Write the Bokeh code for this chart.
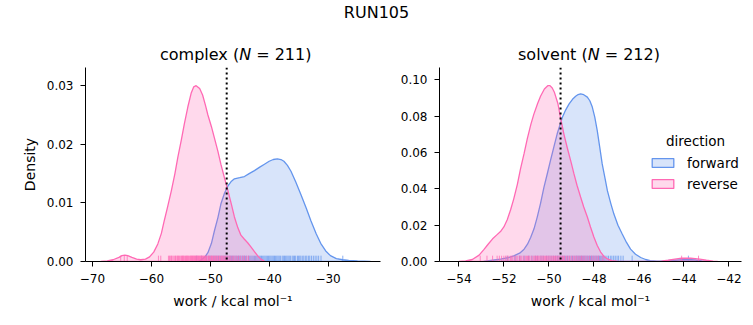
from bokeh.plotting import figure
from bokeh.models import Range1d, FixedTicker, Span, Label, Legend, LegendItem, Div
from bokeh.layouts import column, row
from bokeh.embed import file_html
from bokeh.resources import INLINE

# ---------------- data ----------------
suptitle = "RUN105"
panel_names = ["complex", "solvent"]
panel_n = [211, 212]
series = ["forward", "reverse"]
colors = ["#6495ED", "#FF69B4"]

complex_fwd_x = [-52.1, -51.5, -50.9, -50.4, -49.8, -49.3, -48.7, -48.2, -47.6, -47.0, -46.4, -45.9, -45.0,
                 -44.2, -43.4, -42.5, -41.6, -40.8, -40.0, -39.3, -38.6, -38.0, -37.5, -36.9, -36.3, -35.5,
                 -34.6, -33.7, -32.9, -32.0, -31.25, -30.4, -29.6, -28.6, -27.5, -26.5, -25.0, -22.8]
complex_fwd_y = [0.0, 0.0003, 0.0008, 0.0015, 0.0031, 0.0052, 0.0075, 0.0098, 0.0116, 0.0129, 0.0137, 0.0141,
                 0.0143, 0.0145, 0.0150, 0.0155, 0.0161, 0.0166, 0.0171, 0.0174, 0.0175, 0.0174, 0.0171, 0.0164,
                 0.0154, 0.0136, 0.0114, 0.0091, 0.0069, 0.0047, 0.0031, 0.0018, 0.0010, 0.0005, 0.0003, 0.0002,
                 0.0001, 0.0]
complex_rev_x = [-68.6, -67.5, -66.5, -65.5, -65.0, -64.5, -64.0, -63.3, -62.5, -61.8, -61.0, -60.3, -59.6,
                 -58.9, -58.3, -57.8, -57.2, -56.6, -56.0, -55.5, -54.9, -54.4, -53.8, -53.25, -52.8, -52.4,
                 -51.8, -51.3, -50.8, -50.4, -49.8, -49.3, -48.7, -48.2, -47.6, -47.0, -46.4, -45.9, -45.3,
                 -44.8, -44.2, -43.65, -43.1, -42.5, -41.9, -41.4, -40.7]
complex_rev_y = [0.0, 0.0001, 0.0003, 0.0007, 0.0010, 0.0011, 0.0010, 0.0007, 0.0004, 0.0003, 0.0004, 0.0008,
                 0.0016, 0.0030, 0.0048, 0.0070, 0.0095, 0.0121, 0.0150, 0.0178, 0.0208, 0.0235, 0.0264, 0.0287,
                 0.0298, 0.0300, 0.0295, 0.0284, 0.0266, 0.0250, 0.0230, 0.0211, 0.0188, 0.0166, 0.0143, 0.0121,
                 0.0097, 0.0076, 0.0057, 0.0045, 0.0038, 0.0032, 0.0025, 0.0017, 0.0009, 0.0004, 0.0]

solvent_fwd_x = [-52.9, -52.5, -52.15, -51.8, -51.56, -51.3, -51.1, -50.95, -50.81, -50.66, -50.52, -50.37,
                 -50.22, -50.07, -49.93, -49.78, -49.63, -49.5, -49.4, -49.25, -49.1, -48.95, -48.81, -48.7,
                 -48.59, -48.45, -48.29, -48.18, -48.07, -47.96, -47.85, -47.74, -47.63, -47.5, -47.4, -47.25,
                 -47.11, -46.93, -46.74, -46.55, -46.37, -46.15, -45.92, -45.7, -45.5, -45.2, -44.9, -44.6,
                 -44.2, -43.85, -43.5, -43.2, -42.9]
solvent_fwd_y = [0.0, 0.0007, 0.0013, 0.0021, 0.0031, 0.0046, 0.0068, 0.0095, 0.0132, 0.0180, 0.0243, 0.0320,
                 0.0408, 0.0483, 0.0555, 0.0630, 0.0703, 0.0755, 0.0794, 0.0835, 0.0868, 0.0893, 0.0910, 0.0919,
                 0.0923, 0.0918, 0.0905, 0.0885, 0.0850, 0.0795, 0.0721, 0.0630, 0.0537, 0.0455, 0.0390, 0.0320,
                 0.0261, 0.0200, 0.0151, 0.0105, 0.0068, 0.0040, 0.0022, 0.0011, 0.0005, 0.0002, 0.0003, 0.0006,
                 0.0009, 0.0011, 0.0009, 0.0004, 0.0]
solvent_rev_x = [-54.0, -53.7, -53.4, -53.1, -52.89, -52.7, -52.5, -52.3, -52.15, -52.0, -51.85, -51.7, -51.56,
                 -51.4, -51.26, -51.1, -50.96, -50.8, -50.67, -50.5, -50.37, -50.2, -50.05, -49.95, -49.85,
                 -49.75, -49.6, -49.48, -49.33, -49.18, -49.0, -48.89, -48.75, -48.59, -48.45, -48.29, -48.15,
                 -48.0, -47.85, -47.7, -47.55, -47.4, -47.2, -46.9, -46.4, -45.4, -45.0, -44.7, -44.4, -44.1,
                 -43.7, -43.3, -43.0, -42.7, -42.5]
solvent_rev_y = [0.0, 0.0003, 0.0011, 0.0035, 0.0065, 0.0095, 0.0125, 0.0148, 0.0165, 0.0190, 0.0230, 0.0285,
                 0.0345, 0.0425, 0.0510, 0.0595, 0.0675, 0.0755, 0.0810, 0.0870, 0.0910, 0.0950, 0.0968, 0.0968,
                 0.0955, 0.0930, 0.0870, 0.0790, 0.0700, 0.0625, 0.0540, 0.0485, 0.0420, 0.0355, 0.0300, 0.0245,
                 0.0190, 0.0135, 0.0088, 0.0052, 0.0028, 0.0014, 0.0005, 0.0001, 0.0, 0.0, 0.0002, 0.0007, 0.0013,
                 0.0018, 0.0019, 0.0013, 0.0007, 0.0002, 0.0]

complex_fwd_rug = [-52.3, -51.5, -50.6, -50.2, -49.9, -49.5, -49.2, -48.9, -48.6, -48.3, -48.0, -47.7, -47.5,
                   -47.3, -47.1, -46.8, -46.6, -46.4, -46.2, -46.0, -45.8, -45.6, -45.4, -45.2, -45.0, -44.8,
                   -44.6, -44.4, -44.2, -44.0, -43.8, -43.5, -43.3, -43.1, -42.9, -42.7, -42.5, -42.3, -42.1,
                   -41.9, -41.7, -41.5, -41.3, -41.1, -40.9, -40.7, -40.5, -40.3, -40.1, -39.9, -39.7, -39.5,
                   -39.3, -39.1, -38.9, -38.7, -38.5, -38.3, -38.1, -37.8, -37.6, -37.4, -37.2, -37.0, -36.8,
                   -36.6, -36.4, -36.1, -35.9, -35.7, -35.5, -35.2, -35.0, -34.8, -34.6, -34.3, -34.1, -33.8,
                   -33.6, -33.3, -33.1, -32.8, -32.5, -32.2, -31.9, -31.6, -31.2, -27.5]
complex_rev_rug = [-65.2, -64.6, -64.1, -58.8, -58.4, -57.1, -56.9, -56.8, -56.6, -56.5, -56.3, -56.1, -55.9,
                   -55.8, -55.6, -55.5, -55.4, -55.2, -55.1, -54.9, -54.8, -54.7, -54.6, -54.5, -54.4, -54.2,
                   -54.1, -54.0, -53.9, -53.8, -53.7, -53.5, -53.4, -53.3, -53.2, -53.1, -53.0, -52.9, -52.8,
                   -52.7, -52.6, -52.5, -52.4, -52.3, -52.2, -52.1, -52.0, -51.9, -51.8, -51.7, -51.6, -51.5,
                   -51.4, -51.3, -51.2, -51.1, -51.0, -50.9, -50.8, -50.7, -50.6, -50.4, -50.3, -50.2, -50.1,
                   -49.9, -49.8, -49.7, -49.6, -49.4, -49.3, -49.1, -49.0, -48.8, -48.7, -48.5, -48.4, -48.2,
                   -48.1, -47.9, -47.8, -47.6, -47.4, -47.2, -47.0, -46.8, -46.6, -46.3, -46.1, -45.8, -45.5,
                   -45.2, -44.9, -44.5, -44.2, -43.8, -43.5]
solvent_fwd_rug = [-51.85, -51.5, -51.3, -51.1, -50.9, -50.75, -50.6, -50.5, -50.35, -50.25, -50.1, -50.0,
                   -49.9, -49.8, -49.7, -49.62, -49.55, -49.47, -49.4, -49.32, -49.25, -49.17, -49.1, -49.02,
                   -48.95, -48.88, -48.8, -48.75, -48.7, -48.65, -48.6, -48.55, -48.5, -48.45, -48.4, -48.35,
                   -48.3, -48.25, -48.2, -48.15, -48.1, -48.05, -48.0, -47.95, -47.9, -47.85, -47.8, -47.75,
                   -47.7, -47.65, -47.6, -47.55, -47.5, -47.42, -47.35, -47.27, -47.2, -47.12, -47.05, -46.97,
                   -46.9, -46.8, -46.7, -46.3, -43.8]
solvent_rev_rug = [-53.05, -52.75, -52.5, -52.3, -52.2, -52.1, -52.0, -51.92, -51.85, -51.78, -51.7, -51.65,
                   -51.6, -51.52, -51.45, -51.38, -51.3, -51.25, -51.2, -51.12, -51.05, -51.0, -50.95, -50.9,
                   -50.85, -50.78, -50.7, -50.65, -50.6, -50.55, -50.5, -50.45, -50.4, -50.35, -50.3, -50.25,
                   -50.2, -50.15, -50.1, -50.05, -50.0, -49.95, -49.9, -49.85, -49.8, -49.75, -49.7, -49.65,
                   -49.6, -49.55, -49.5, -49.45, -49.4, -49.35, -49.3, -49.22, -49.15, -49.08, -49.0, -48.92,
                   -48.85, -48.78, -48.7, -48.62, -48.55, -48.48, -48.4, -48.3, -48.2, -48.1, -48.0, -47.9,
                   -47.8, -47.6, -44.1, -43.35]

free_energy = [-47.21, -49.48]

complex_xticks = [-70, -60, -50, -40, -30]
complex_yticks = [0.0, 0.01, 0.02, 0.03]
complex_ylabels = ["0.00", "0.01", "0.02", "0.03"]
solvent_xticks = [-54, -52, -50, -48, -46, -44, -42]
solvent_yticks = [0.0, 0.02, 0.04, 0.06, 0.08, 0.10]
solvent_ylabels = ["0.00", "0.02", "0.04", "0.06", "0.08", "0.10"]

x_label = "work / kcal mol\u207b\u00b9"
y_label = "Density"
legend_title = "direction"

FONT = "DejaVu Sans"


def style(p, xticks, yticks, ylabels, ylab):
    for ax in (p.xaxis[0], p.yaxis[0]):
        ax.axis_line_color = "black"
        ax.axis_line_width = 1
        ax.major_tick_line_color = "black"
        ax.major_tick_line_width = 1
        ax.major_tick_out = 5
        ax.major_tick_in = 0
        ax.minor_tick_line_color = None
        ax.major_label_text_font = FONT
        ax.major_label_text_font_size = "12px"
        ax.major_label_text_color = "black"
        ax.axis_label_text_font = FONT
        ax.axis_label_text_font_size = "14px"
        ax.axis_label_text_font_style = "normal"
        ax.axis_label_text_color = "black"
    p.xaxis.ticker = FixedTicker(ticks=xticks)
    p.xaxis.major_label_overrides = {t: str(t).replace("-", "\u2212") for t in xticks}
    p.yaxis.ticker = FixedTicker(ticks=yticks)
    p.yaxis.major_label_overrides = dict(zip(yticks, ylabels))
    p.xaxis.axis_label = x_label
    p.xaxis.major_label_standoff = 7
    p.xaxis.axis_label_standoff = 7
    p.yaxis.major_label_standoff = 7
    p.yaxis.axis_label_standoff = 6
    if ylab:
        p.yaxis.axis_label = ylab
    p.xgrid.visible = False
    p.ygrid.visible = False
    p.outline_line_color = None


def add_series(p, xs, ys, rug, color, ymax):
    r = p.patch(xs, ys, fill_color=color, fill_alpha=0.25, line_color=color, line_width=1.3)
    h = ymax * 0.03
    p.segment(x0=rug, x1=rug, y0=[0] * len(rug), y1=[h] * len(rug),
              line_color=color, line_alpha=0.75, line_width=1)
    return r


# ---------------- left panel ----------------
c_ymax = 0.0331
p1 = figure(width=395, height=262, output_backend="svg", toolbar_location=None, title=None,
            x_range=Range1d(-71.18, -21.1), y_range=Range1d(0, c_ymax),
            min_border_left=85, min_border_right=15, min_border_top=4, min_border_bottom=64,
            background_fill_color="white", border_fill_color="white", margin=(0, 0, 0, 0))
style(p1, complex_xticks, complex_yticks, complex_ylabels, y_label)
add_series(p1, complex_fwd_x, complex_fwd_y, complex_fwd_rug, colors[0], c_ymax)
add_series(p1, complex_rev_x, complex_rev_y, complex_rev_rug, colors[1], c_ymax)
p1.add_layout(Span(location=free_energy[0], dimension="height", line_color="black",
                   line_width=2, line_dash="2 3"))

# ---------------- right panel ----------------
s_ymax = 0.1068
p2 = figure(width=358, height=262, output_backend="svg", toolbar_location=None, title=None,
            x_range=Range1d(-54.86, -41.44), y_range=Range1d(0, s_ymax),
            min_border_left=44, min_border_right=12, min_border_top=4, min_border_bottom=64,
            background_fill_color="white", border_fill_color="white", margin=(0, 0, 0, 0))
style(p2, solvent_xticks, solvent_yticks, solvent_ylabels, None)
rf = add_series(p2, solvent_fwd_x, solvent_fwd_y, solvent_fwd_rug, colors[0], s_ymax)
rr = add_series(p2, solvent_rev_x, solvent_rev_y, solvent_rev_rug, colors[1], s_ymax)
p2.add_layout(Span(location=free_energy[1], dimension="height", line_color="black",
                   line_width=2, line_dash="2 3"))

legend = Legend(items=[LegendItem(label=series[0], renderers=[rf]),
                       LegendItem(label=series[1], renderers=[rr])],
                location=(210, 69), orientation="vertical",
                glyph_width=27, glyph_height=11, label_height=17, spacing=4,
                padding=0, margin=0, label_standoff=11,
                label_text_font=FONT, label_text_font_size="13.5px", label_text_color="black",
                border_line_color=None, background_fill_alpha=0)
p2.add_layout(legend)
p2.add_layout(Label(x=-43.48, y=0.0662, text=legend_title, text_font=FONT, text_font_size="13.5px",
                    text_align="center", text_baseline="middle", text_color="black"))

# ---------------- titles ----------------
head = Div(text=suptitle, width=753, height=30, margin=(0, 0, 0, 0),
           styles={"text-align": "center", "font-size": "16px", "line-height": "26px",
                   "font-family": FONT, "color": "black", "width": "753px"})


def title_div(name, n, width, pad):
    return Div(text=f"{name} (<i>N</i> = {n})", width=width, height=33, margin=(0, 0, 0, 0),
               styles={"font-size": "16px", "line-height": "20px", "padding-top": "15px",
                       "padding-left": f"{pad}px", "white-space": "nowrap",
                       "font-family": FONT, "color": "black", "box-sizing": "border-box"})


t1 = title_div(panel_names[0], panel_n[0], 395, 160)
t2 = title_div(panel_names[1], panel_n[1], 358, 123)

layout = column(head,
                row(t1, t2, margin=(0, 0, 0, 0)),
                row(p1, p2, margin=(0, 0, 0, 0)),
                margin=(0, 0, 0, 0))

open("out.html", "w").write(file_html(layout, INLINE))
